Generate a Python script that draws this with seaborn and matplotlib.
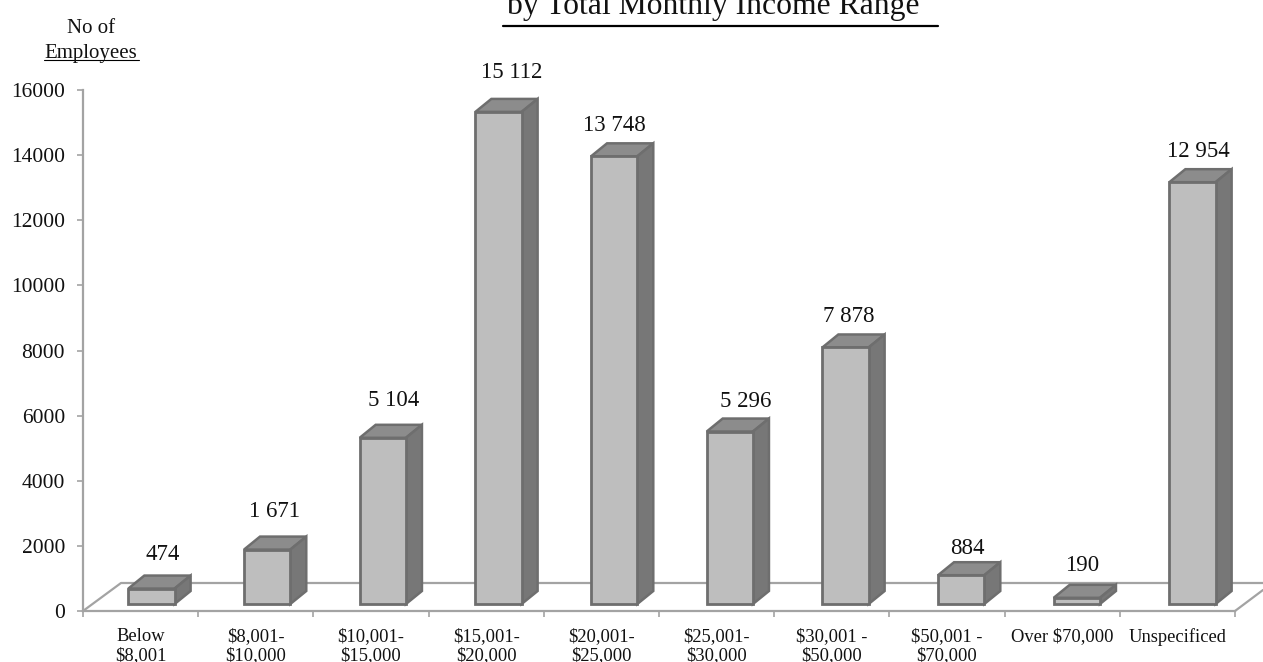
import pandas as pd
import matplotlib
matplotlib.use('Agg')
import matplotlib.pyplot as plt
import seaborn as sns
from matplotlib.patches import Polygon
from matplotlib.transforms import Affine2D, IdentityTransform

income_ranges = ['Below\n$8,001', '$8,001-\n$10,000', '$10,001-\n$15,000', '$15,001-\n$20,000',
                 '$20,001-\n$25,000', '$25,001-\n$30,000', '$30,001 -\n$50,000', '$50,001 -\n$70,000',
                 'Over $70,000', 'Unspecificed']
employees = [474, 1671, 5104, 15112, 13748, 5296, 7878, 884, 190, 12954]
y_ticks = [0, 2000, 4000, 6000, 8000, 10000, 12000, 14000, 16000]

W, H = 1263, 662
AXIS = '#a3a3a3'
EDGE = '#6e6e6e'

# where the value labels sit relative to the bar, in pixels (the original has them hand placed)
label_dx = [22, 19, 23, 25, 13, 29, 17, 20, 20, 21]
label_dy = [41, 45, 44, 46, 38, 37, 38, 34, 39, 38]


def box(x0, y0, x1, y1):
    """Figure fractions for a pixel box given from the top left."""
    return [x0 / W, 1 - y1 / H, (x1 - x0) / W, (y1 - y0) / H]


sns.set_theme(style='white')
plt.rcParams['font.family'] = ['Liberation Serif', 'DejaVu Serif']

fig = plt.figure(figsize=(W / 100, H / 100), dpi=100)
ax = fig.add_axes(box(83, 90, 1235, 611))

data = pd.DataFrame({'range': income_ranges, 'employees': employees})
sns.barplot(data=data, x='range', y='employees', color='#bebebe', saturation=1, width=0.4,
            edgecolor=EDGE, linewidth=2.0, ax=ax, zorder=3)

ax.set_xlim(-0.5, 9.5)
ax.set_ylim(0, 16000)
ax.set_xlabel('')
ax.set_ylabel('')
ax.set_yticks(y_ticks)

# the bars stand 7px above the front edge of the floor and run slightly wider than the ticks
bar_shift = Affine2D().scale(115.67 / 115.2, 1).translate(10.3, 7)
depth_x, depth_y = 16, 13
for patch in ax.patches:
    patch.set_transform(ax.transData + bar_shift)
    patch.set_clip_on(False)
    (x0, y0), (x1, y1) = (ax.transData + bar_shift).transform(patch.get_bbox().get_points())
    top = [(x0, y1), (x1, y1), (x1 + depth_x, y1 + depth_y), (x0 + depth_x, y1 + depth_y)]
    side = [(x1, y0), (x1 + depth_x, y0 + depth_y), (x1 + depth_x, y1 + depth_y), (x1, y1)]
    ax.add_patch(Polygon(top, transform=IdentityTransform(), facecolor='#8c8c8c', edgecolor=EDGE,
                         linewidth=1.8, clip_on=False, zorder=2.9))
    ax.add_patch(Polygon(side, transform=IdentityTransform(), facecolor='#777777', edgecolor=EDGE,
                         linewidth=1.8, clip_on=False, zorder=2.9))

# floor outline behind the bars
floor = [(83, 611), (121, 583), (1263, 583)]
floor_right = [(1235, 611), (1263, 590)]
for points in (floor, floor_right):
    xs = [p[0] for p in points]
    ys = [H - p[1] for p in points]
    ax.plot(xs, ys, color=AXIS, lw=1.6, transform=IdentityTransform(), clip_on=False, zorder=1)

for spine in ['top', 'right']:
    ax.spines[spine].set_visible(False)
for spine in ['left', 'bottom']:
    ax.spines[spine].set_color(AXIS)
    ax.spines[spine].set_linewidth(1.6)

ax.set_xticks([i - 0.5 for i in range(len(income_ranges) + 1)], minor=True)
ax.tick_params(axis='x', which='minor', bottom=True, length=4, width=1.2, color=AXIS)
ax.tick_params(axis='x', which='major', bottom=False, length=0, pad=12, labelsize=13.3,
               labelcolor='#111111')
ax.tick_params(axis='y', left=True, length=4.5, width=1.2, color=AXIS, pad=8.5, labelsize=15.5,
               labelcolor='#111111')
for label in ax.get_xticklabels():
    label.set_linespacing(1.2)

for i, value in enumerate(employees):
    ax.annotate(f'{value:,}'.replace(',', ' '), xy=(i, value), xytext=(label_dx[i], label_dy[i]),
                textcoords='offset pixels', ha='center', va='center', fontsize=16.5,
                color='#111111', annotation_clip=False, zorder=5)

# heading is cut by the top of the page in the source
fig.text(507 / W, 1 - 14 / H, 'by Total Monthly Income Range', fontsize=22.8, color='#111111',
         ha='left', va='baseline')
fig.add_artist(plt.Line2D([503 / W, 938 / W], [1 - 25.5 / H, 1 - 25.5 / H], color='black', lw=1.6))

fig.text(91 / W, 1 - 33 / H, 'No of', fontsize=15, color='#111111', ha='center', va='baseline')
fig.text(91 / W, 1 - 58 / H, 'Employees', fontsize=15, color='#111111', ha='center', va='baseline')
fig.add_artist(plt.Line2D([44 / W, 139 / W], [1 - 60 / H, 1 - 60 / H], color='black', lw=0.8))

fig.savefig('out.png', dpi=100)
